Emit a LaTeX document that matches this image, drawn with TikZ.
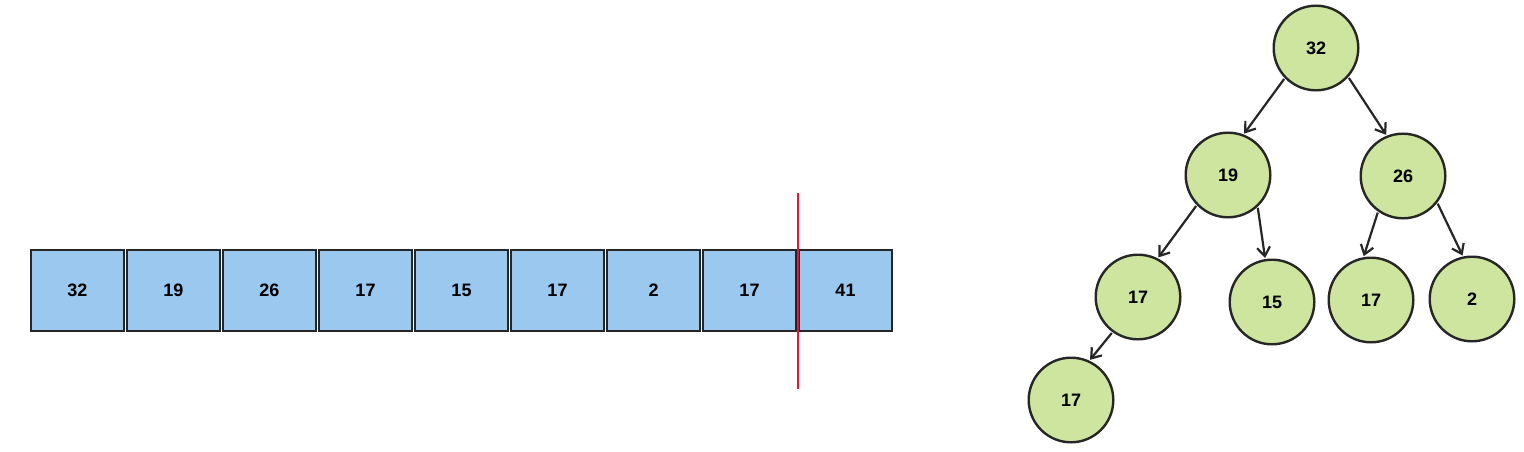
\documentclass[tikz,border=0pt]{standalone}
\usepackage{fontspec}
\setmainfont{Liberation Sans}
\usetikzlibrary{arrows.meta}
\definecolor{boxblue}{HTML}{9AC8EE}
\definecolor{nodegreen}{HTML}{CDE59E}
\definecolor{edgedark}{HTML}{262626}
\definecolor{cutred}{HTML}{E3173A}
\tikzset{
  cell/.style={draw=edgedark, line width=2.2pt, fill=boxblue, minimum width=92.8pt, minimum height=80.8pt, inner sep=0pt, font=\bfseries\fontsize{18}{21}\selectfont},
  heapnode/.style={circle, draw=edgedark, line width=2.4pt, fill=nodegreen, minimum size=84.6pt, inner sep=0pt, font=\bfseries\fontsize{18}{21}\selectfont},
  link/.style={draw=edgedark, line width=2.2pt, -{Straight Barb[length=9pt,width=13pt,line width=2.2pt]}, shorten >=1pt, shorten <=1pt},
  cutline/.style={draw=cutred, line width=2.4pt}
}
\begin{document}
\begin{tikzpicture}[x=1pt,y=-1pt]
\useasboundingbox (0,0) rectangle (1524,452);
% array
\node[cell] (c1) at (77.5,290.5) {32};
\node[cell] (c2) at (173.5,290.5) {19};
\node[cell] (c3) at (269.5,290.5) {26};
\node[cell] (c4) at (365.5,290.5) {17};
\node[cell] (c5) at (461.5,290.5) {15};
\node[cell] (c6) at (557.5,290.5) {17};
\node[cell] (c7) at (653.5,290.5) {2};
\node[cell] (c8) at (749.5,290.5) {17};
\node[cell] (c9) at (845.5,290.5) {41};
\coordinate (cutTop) at (798,193);
\coordinate (cutBot) at (798,389);
\draw[cutline] (cutTop) -- (cutBot);
% tree
\node[heapnode] (n32) at (1316,48) {32};
\node[heapnode] (n19) at (1228,175) {19};
\node[heapnode] (n26) at (1403,176) {26};
\node[heapnode] (n17a) at (1138,297) {17};
\node[heapnode] (n15) at (1272,302) {15};
\node[heapnode] (n17b) at (1371,300) {17};
\node[heapnode] (n2) at (1472,299) {2};
\node[heapnode] (n17c) at (1071,400) {17};
\draw[link] (n32.224) -- (n19.69);
\draw[link] (n32.318) -- (n26.112);
\draw[link] (n19.224) -- (n17a.63);
\draw[link] (n19.313) -- (n15.99);
\draw[link] (n26.235) -- (n17b.100);
\draw[link] (n26.322) -- (n2.102);
\draw[link] (n17a.234) -- (n17c.65);
\end{tikzpicture}
\end{document}
